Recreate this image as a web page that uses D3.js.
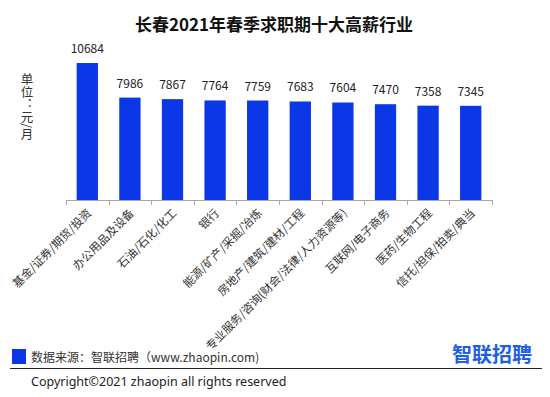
<!DOCTYPE html>
<html><head><meta charset="utf-8">
<script src="https://cdn.jsdelivr.net/npm/d3@7"></script>
<style>
html,body{margin:0;padding:0;background:#fff;}
svg{display:block;font-family:"Microsoft YaHei","Noto Sans CJK SC",sans-serif;}
</style></head>
<body>
<svg id="c" width="550" height="397"></svg>
<script>
const categories = ["基金/证券/期货/投资","办公用品及设备","石油/石化/化工","银行","能源/矿产/采掘/冶炼","房地产/建筑/建材/工程","专业服务/咨询(财会/法律/人力资源等)","互联网/电子商务","医药/生物工程","信托/担保/拍卖/典当"];
const salaries = [10684,7986,7867,7764,7759,7683,7604,7470,7358,7345];
const title = "长春2021年春季求职期十大高薪行业";
const unitLabel = "单位：元/月";
const sourceText = "数据来源：智联招聘（www.zhaopin.com)";
const copyrightText = "Copyright©2021 zhaopin all rights reserved";
const logoText = "智联招聘";

const blue = "#0b37e6";
const svg = d3.select("#c");

const x = d3.scaleBand().domain(categories).range([66, 492]).paddingInner(0.5).paddingOuter(0.25);
const y = d3.scaleLinear().domain([0, 10684]).range([200, 63]);

svg.append("text").attr("x", 274).attr("y", 31).attr("text-anchor", "middle")
  .attr("font-size", 17).attr("font-weight", "bold").attr("fill", "#111").text(title);

svg.append("text").attr("transform", "translate(27,73)")
  .attr("writing-mode", "vertical-rl").style("writing-mode","vertical-rl").style("text-orientation","mixed")
  .attr("font-size", 12.5).attr("fill", "#333").text(unitLabel);

svg.selectAll("rect.bar").data(salaries).join("rect").attr("class","bar")
  .attr("x", (d,i) => x(categories[i])).attr("width", x.bandwidth())
  .attr("y", d => y(d)).attr("height", d => y(0) - y(d)).attr("fill", blue);

svg.selectAll("text.val").data(salaries).join("text").attr("class","val")
  .attr("x", (d,i) => x(categories[i]) + x.bandwidth()/2).attr("y", d => y(d) - 10)
  .attr("text-anchor","middle").attr("font-size", 12).attr("fill", "#222").text(d => d);

// axis
const axisG = svg.append("g");
axisG.append("line").attr("x1", 66).attr("x2", 492).attr("y1", 200.5).attr("y2", 200.5).attr("stroke", "#a6a6a6");
const edges = d3.range(categories.length + 1).map(i => 66 + i * (426 / categories.length));
axisG.selectAll("line.tick").data(edges).join("line").attr("class","tick")
  .attr("x1", d => Math.round(d)+0.5).attr("x2", d => Math.round(d)+0.5).attr("y1", 200).attr("y2", 205).attr("stroke", "#a6a6a6");

svg.selectAll("text.cat").data(categories).join("text").attr("class","cat")
  .attr("transform", d => `translate(${x(d) + x.bandwidth()/2 + 2},211) rotate(-45)`)
  .attr("text-anchor","end").attr("dy","0.35em").attr("font-size", 11.5).attr("fill","#333").text(d => d);

// footer
svg.append("rect").attr("x", 12).attr("y", 349).attr("width", 14).attr("height", 15).attr("fill", blue);
svg.append("text").attr("x", 31).attr("y", 362).attr("font-size", 12).attr("fill", "#333").text(sourceText);
svg.append("text").attr("x", 452).attr("y", 362).attr("font-size", 20).attr("font-weight", "bold").attr("fill", "#1f5fe6").text(logoText);
svg.append("line").attr("x1", 10).attr("x2", 542).attr("y1", 368.5).attr("y2", 368.5).attr("stroke", "#222").attr("stroke-width", 1.2);
svg.append("text").attr("x", 31).attr("y", 386).attr("font-size", 12.5).attr("fill", "#222").attr("font-family","'Noto Sans','Open Sans',sans-serif").text(copyrightText);
</script>
</body></html>
